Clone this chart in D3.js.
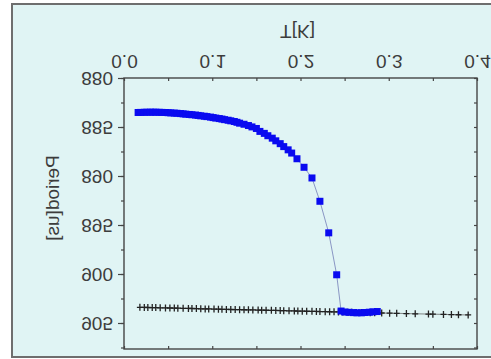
<!DOCTYPE html>
<html><head><meta charset="utf-8">
<script src="https://cdn.jsdelivr.net/npm/d3@7/dist/d3.min.js"></script>
<style>
html,body{margin:0;padding:0;background:#fff;}
svg text{font-family:"Liberation Sans",Arial,sans-serif;}
</style></head>
<body><svg id="c" width="491" height="359"></svg>
<script>
const xTicks = [0.0, 0.1, 0.2, 0.3, 0.4];
const yTicks = [880, 885, 890, 895, 900, 905];
const xLabel = "T[K]";
const yLabel = "Period[us]";

const blueT = [0.016,0.019,0.023,0.026,0.030,0.033,0.036,0.040,0.043,0.047,0.050,0.053,0.057,0.060,0.064,0.067,0.070,0.074,0.077,0.081,0.084,0.087,0.091,0.094,0.098,0.101,0.104,0.108,0.111,0.114,0.118,0.121,0.125,0.128,0.131,0.136,0.141,0.145,0.150,0.154,0.159,0.163,0.168,0.172,0.177,0.181,0.186,0.190,0.196,0.204,0.213,0.222,0.232,0.241,0.246,0.250,0.255,0.260,0.264,0.269,0.273,0.278,0.282,0.287];
const blueP = [883.52,883.51,883.50,883.49,883.49,883.49,883.49,883.50,883.51,883.52,883.54,883.56,883.58,883.60,883.63,883.66,883.69,883.72,883.75,883.78,883.82,883.86,883.90,883.94,883.99,884.04,884.09,884.14,884.19,884.25,884.31,884.37,884.44,884.52,884.61,884.72,884.85,884.99,885.15,885.45,885.65,885.89,886.14,886.41,886.70,887.00,887.33,887.66,888.24,889.11,890.20,892.58,895.80,900.08,903.78,903.88,903.91,903.94,903.96,903.96,903.93,903.90,903.86,903.83];

const blackT = [0.018,0.023,0.027,0.032,0.036,0.041,0.047,0.052,0.057,0.061,0.067,0.073,0.077,0.082,0.087,0.092,0.096,0.102,0.107,0.111,0.116,0.121,0.126,0.131,0.136,0.141,0.146,0.152,0.156,0.161,0.167,0.172,0.177,0.181,0.187,0.193,0.197,0.202,0.207,0.213,0.218,0.222,0.228,0.233,0.238,0.243,0.248,0.254,0.258,0.263,0.269,0.274,0.279,0.284,0.292,0.301,0.309,0.320,0.330,0.345,0.350,0.362,0.371,0.379,0.390];
const blackP = [903.40,903.41,903.42,903.43,903.43,903.45,903.46,903.47,903.48,903.49,903.50,903.51,903.52,903.53,903.55,903.56,903.56,903.58,903.59,903.60,903.61,903.62,903.63,903.64,903.65,903.66,903.67,903.68,903.69,903.70,903.71,903.72,903.73,903.74,903.76,903.77,903.78,903.79,903.80,903.81,903.82,903.83,903.84,903.85,903.86,903.87,903.89,903.90,903.91,903.92,903.93,903.94,903.95,903.96,903.98,904.00,904.01,904.04,904.06,904.09,904.10,904.12,904.14,904.16,904.18];

const svg = d3.select("#c");
const L = 124, R = 477, T = 78, B = 349;
const x = d3.scaleLinear().domain([0, 0.4]).range([L, R]);
const y = d3.scaleLinear().domain([880, 905]).range([T, 323]);

// panel
svg.append("rect").attr("x", 12).attr("y", 4).attr("width", 490).attr("height", 353)
  .attr("fill", "#e0f4f4").attr("stroke", "#6e6e6e").attr("stroke-width", 2);

const axisCol = "#454545";
const textCol = "#3c3c3c";

// box
svg.append("rect").attr("x", L).attr("y", T).attr("width", R - L).attr("height", B - T)
  .attr("fill", "none").attr("stroke", axisCol).attr("stroke-width", 1.4);

// top x axis (labelled), ticks inward
const xMinor = d3.range(0, 0.4001, 0.05);
const gxt = svg.append("g").attr("transform", `translate(0,${T})`)
  .call(d3.axisBottom(x).tickValues(xMinor).tickSize(3).tickFormat(""));
gxt.select(".domain").remove();
gxt.selectAll("line").attr("stroke", axisCol).attr("stroke-width", 1.2);
const gxt2 = svg.append("g").attr("transform", `translate(0,${T})`)
  .call(d3.axisTop(x).tickValues(xTicks).tickSize(0).tickFormat(d3.format(".1f")));
gxt2.select(".domain").remove();
gxt2.selectAll("text").attr("y", 0).attr("dy", "0.35em")
  .attr("transform", "translate(0,-16) scale(1,-1)")
  .attr("font-size", 19).attr("fill", textCol);

// bottom x axis, ticks inward, no labels
const gxb = svg.append("g").attr("transform", `translate(0,${B})`)
  .call(d3.axisTop(x).tickValues(xMinor).tickSize(3).tickFormat(""));
gxb.select(".domain").remove();
gxb.selectAll("line").attr("stroke", axisCol).attr("stroke-width", 1.2);

// left y axis
const yMinor = d3.range(880, 907.6, 2.5);
const gyl = svg.append("g").attr("transform", `translate(${L},0)`)
  .call(d3.axisLeft(y).tickValues(yMinor).tickSize(3).tickFormat(""));
gyl.select(".domain").remove();
gyl.selectAll("line").attr("stroke", axisCol).attr("stroke-width", 1.2);
const gyl2 = svg.append("g").attr("transform", `translate(${L},0)`)
  .call(d3.axisLeft(y).tickValues(yTicks).tickSize(6).tickPadding(5).tickFormat(d3.format("d")));
gyl2.select(".domain").remove();
gyl2.selectAll("line").attr("stroke", axisCol).attr("stroke-width", 1.2);
gyl2.selectAll("text").attr("dy", "0.35em").attr("transform", "scale(1,-1)")
  .attr("font-size", 19).attr("fill", textCol);

// right y axis ticks inward
const gyr = svg.append("g").attr("transform", `translate(${R},0)`)
  .call(d3.axisLeft(y).tickValues(yMinor).tickSize(3).tickFormat(""));
gyr.select(".domain").remove();
gyr.selectAll("line").attr("stroke", axisCol).attr("stroke-width", 1.2);

// axis titles (vertically mirrored, as in the reference)
svg.append("text").attr("dy", "0.35em").attr("text-anchor", "middle")
  .attr("transform", `translate(${(L + R) / 2 - 3},32) scale(1,-1)`)
  .attr("font-size", 19).attr("fill", textCol).text(xLabel);
svg.append("text").attr("dy", "0.35em").attr("text-anchor", "middle")
  .attr("transform", `translate(52,198) scale(1,-1) rotate(-90)`)
  .attr("font-size", 19).attr("fill", textCol).text(yLabel);

// black series
const blackData = blackT.map((t, i) => [t, blackP[i]]);
svg.append("path").datum(blackData)
  .attr("d", d3.line().x(d => x(d[0])).y(d => y(d[1])))
  .attr("fill", "none").attr("stroke", "#666").attr("stroke-width", 0.8);
svg.append("g").selectAll("path").data(blackData).join("path")
  .attr("transform", d => `translate(${x(d[0])},${y(d[1])})`)
  .attr("d", "M-3,0H3M0,-3.5V3.5").attr("stroke", "#222").attr("stroke-width", 1.3).attr("fill", "none");

// blue series
const blueData = blueT.map((t, i) => [t, blueP[i]]);
svg.append("path").datum(blueData)
  .attr("d", d3.line().x(d => x(d[0])).y(d => y(d[1])))
  .attr("fill", "none").attr("stroke", "#8a96c4").attr("stroke-width", 1);
svg.append("g").selectAll("rect").data(blueData).join("rect")
  .attr("x", d => x(d[0]) - 3.5).attr("y", d => y(d[1]) - 3.5)
  .attr("width", 7).attr("height", 7).attr("fill", "#0a0af0");
</script></body></html>
